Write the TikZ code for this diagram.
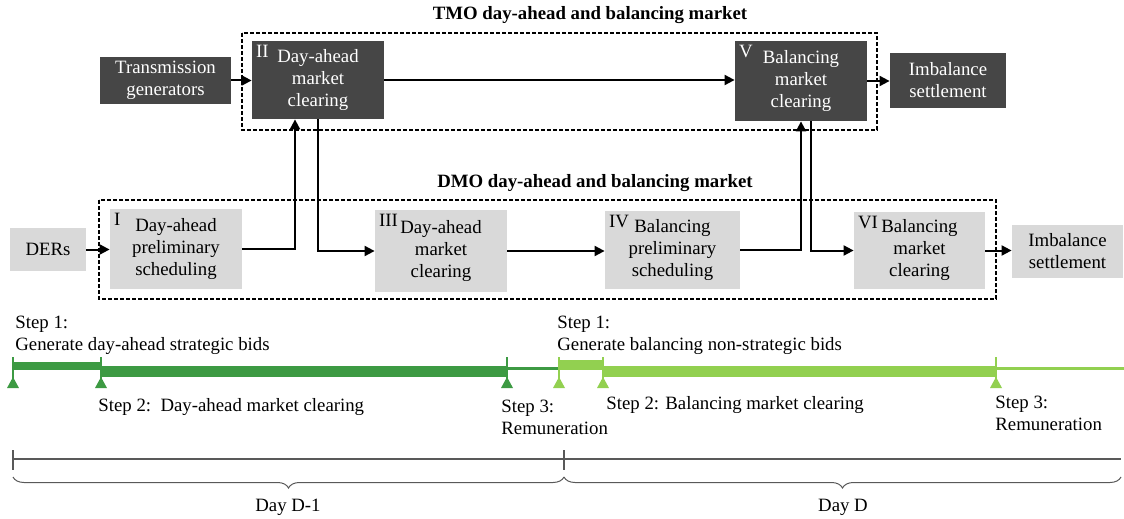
\documentclass[tikz,border=0pt]{standalone}
\usepackage{fontspec}
\setmainfont{Liberation Serif}
\newfontfamily\figserif{Liberation Serif}
\usepackage{tikz}
\usetikzlibrary{arrows.meta,decorations.pathreplacing}

\definecolor{tmogray}{RGB}{70,70,70}
\definecolor{dmogray}{RGB}{217,217,217}
\definecolor{dagreen}{RGB}{61,154,67}
\definecolor{balgreen}{RGB}{146,208,80}
\definecolor{axisgray}{RGB}{89,89,89}

\newcommand\figfont{\figserif\fontsize{9.4}{11}\selectfont}

\begin{document}
\begin{tikzpicture}[x=0.5pt, y=-0.5pt, >={Triangle[length=5pt,width=5pt]}, font=\figfont,
    tmobox/.style={fill=tmogray, text=white, align=center, inner sep=0pt},
    dmobox/.style={fill=dmogray, align=center, inner sep=0pt},
    num/.style={anchor=north west, inner sep=2pt},
    group/.style={draw, line width=0.7pt, dash pattern=on 2pt off 1pt},
    flow/.style={->, line width=1pt},
    tick/.style={line width=1pt},
    stepnote/.style={anchor=west, align=left, inner sep=0pt}]
    \useasboundingbox (0,0) rectangle (1124,519);

    % Market operators' frames
    \draw [group] (242,33) rectangle (877,130);
    \draw [group] (99,200) rectangle (996,299);
    \node [font=\figfont\bfseries] (tmotitle) at (590,15)  {TMO day-ahead and balancing market};
    \node [font=\figfont\bfseries] (dmotitle) at (595,183) {DMO day-ahead and balancing market};

    % Nodes, transmission level
    \node [tmobox, minimum width=65.5pt, minimum height=23.5pt] (trans) at (165.5,80.5) {Transmission\\generators};
    \node [tmobox, minimum width=66pt, minimum height=39pt]     (II)    at (318,80)    {Day-ahead\\market\\clearing};
    \node [tmobox, minimum width=66pt, minimum height=40pt]     (V)     at (801,81)    {Balancing\\market\\clearing};
    \node [tmobox, minimum width=58pt, minimum height=27.5pt]  (imbT)  at (948,80.5)  {Imbalance\\settlement};
    \node [num, text=white] (numII) at (II.north west) {II};
    \node [num, text=white] (numV)  at (V.north west)  {V};

    % Nodes, distribution level
    \node [dmobox, minimum width=38pt, minimum height=21.5pt]   (ders)  at (48,249.5)   {DERs};
    \node [dmobox, minimum width=66pt, minimum height=40pt]     (I)     at (176,249)    {Day-ahead\\preliminary\\scheduling};
    \node [dmobox, minimum width=66pt, minimum height=41pt]     (III)   at (441,251)    {Day-ahead\\market\\clearing};
    \node [dmobox, minimum width=67.5pt, minimum height=39pt]   (IV)    at (672.5,250)  {Balancing\\preliminary\\scheduling};
    \node [dmobox, minimum width=65.5pt, minimum height=38.5pt] (VI)    at (919.5,250.5) {Balancing\\market\\clearing};
    \node [dmobox, minimum width=55.5pt, minimum height=26.5pt] (imbD)  at (1067.5,251.5) {Imbalance\\settlement};
    \node [num] (numI)   at (I.north west)   {I};
    \node [num] (numIII) at (III.north west) {III};
    \node [num] (numIV)  at (IV.north west)  {IV};
    \node [num] (numVI)  at (VI.north west)  {VI};

    % Paths
    \draw [flow] (trans.east) -- (trans.east -| II.west);
    \draw [flow] (II.east) -- (II.east -| V.west);
    \draw [flow] (V.east) -- (V.east -| imbT.west);
    \draw [flow] (ders.east) -- (ders.east -| I.west);
    \draw [flow] (I.east) -| ([xshift=-11.5pt]II.south);
    \draw [flow] (II.south) |- (III.west);
    \draw [flow] (III.east) -- (III.east -| IV.west);
    \draw [flow] (IV.east) -| (V.south);
    \draw [flow] ([xshift=5pt]V.south) |- (VI.west);
    \draw [flow] (VI.east) -- (VI.east -| imbD.west);

    % Day-ahead time line
    \foreach \x in {13,101,507} {
        \draw [tick, dagreen] (\x,357) -- (\x,380);
        \fill [dagreen] (\x,377) -- (\x+6,388) -- (\x-6,388) -- cycle;
    }
    \fill [dagreen] (13,362) rectangle (101,370);
    \fill [dagreen] (101,366) rectangle (507,377);
    \draw [dagreen, line width=1.5pt] (507,368) -- (559,368);

    % Balancing time line
    \foreach \x in {559,603,996} {
        \draw [tick, balgreen] (\x,357) -- (\x,380);
        \fill [balgreen] (\x,377) -- (\x+6,388) -- (\x-6,388) -- cycle;
    }
    \fill [balgreen] (559,360) rectangle (603,370);
    \fill [balgreen] (603,366) rectangle (996,377);
    \draw [balgreen, line width=1.5pt] (996,368.5) -- (1124,368.5);

    % Steps
    \node [stepnote] (da1) at (15,335)  {Step 1:\\Generate day-ahead strategic bids};
    \node [stepnote] (da2) at (98,407)  {Step 2:\ \ Day-ahead market clearing};
    \node [stepnote] (da3) at (501,417) {Step 3:\\Remuneration};
    \node [stepnote] (bl1) at (557,335) {Step 1:\\Generate balancing non-strategic bids};
    \node [stepnote] (bl2) at (606,405) {Step 2: Balancing market clearing};
    \node [stepnote] (bl3) at (995,413) {Step 3:\\Remuneration};

    % Days
    \draw [axisgray, line width=0.6pt] (13,459) -- (1121,459);
    \draw [axisgray, line width=0.6pt] (13,450) -- (13,470);
    \draw [axisgray, line width=0.6pt] (564,450) -- (564,470);
    \draw [axisgray, line width=0.5pt, decorate, decoration={brace, mirror, amplitude=5.5pt}] (13,477) -- (564,477);
    \draw [axisgray, line width=0.5pt, decorate, decoration={brace, mirror, amplitude=5.5pt}] (564,477) -- (1121,477);
    \node (dprev) at (288,507) {Day D-1};
    \node (dday)  at (843,507) {Day D};
\end{tikzpicture}
\end{document}
